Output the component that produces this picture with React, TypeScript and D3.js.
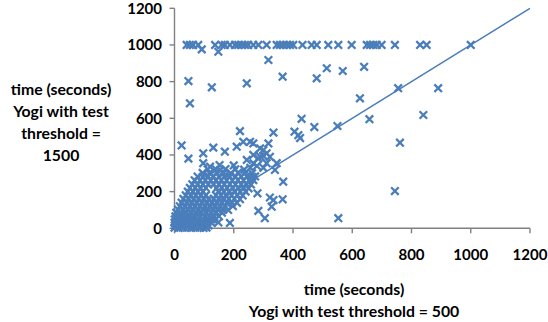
import React from "react";
import * as d3 from "d3";

const xTicks = [0, 200, 400, 600, 800, 1000, 1200];
const yTicks = [0, 200, 400, 600, 800, 1000, 1200];

// capped runs (time = 1000 on the vertical axis)
const cappedX = [41, 52, 63, 80, 137, 159, 170, 187, 204, 215, 227, 238, 249, 266, 283, 311, 345, 356, 367, 379, 390, 401, 432, 463, 480, 519, 553, 598, 649, 660, 671, 683, 699, 744, 829, 851, 1000];

// dense cluster near the origin
const clusterPoints: [number, number][] = [
  [0,3],[14,2],[28,4],[42,3],[56,2],[70,4],[84,3],[98,2],[108,4],
  [2,15],[16,14],[31,16],[46,15],[61,14],[76,16],[91,15],[104,14],[115,16],
  [0,30],[15,31],[30,29],[46,30],[62,31],[78,29],[94,30],[110,31],[125,29],
  [1,48],[16,47],[32,49],[48,48],[64,47],[80,49],[96,48],[112,47],[126,49],[136,46],
  [3,65],[19,66],[36,64],[52,65],[69,66],[86,64],[102,65],[118,66],[134,64],[150,66],
  [6,85],[23,84],[40,86],[57,85],[74,84],[91,86],[108,85],[125,84],[142,86],[160,85],
  [12,102],[29,101],[46,103],[63,102],[80,101],[97,103],[114,102],[131,101],[148,103],[165,102],[181,100],
  [18,120],[35,121],[52,119],[69,120],[86,121],[103,119],[120,120],[137,121],[154,119],[171,120],[197,121],
  [24,140],[41,141],[58,139],[75,140],[92,141],[109,139],[126,140],[143,141],[160,139],[177,140],[194,141],[211,139],
  [30,160],[47,161],[64,159],[81,160],[98,161],[115,159],[132,160],[149,161],[166,159],[183,160],[202,161],[221,159],
  [38,180],[55,181],[72,179],[89,180],[106,181],[140,180],[157,181],[174,179],[193,180],[212,181],[230,179],
  [45,200],[62,201],[79,199],[96,200],[148,201],[166,199],[184,200],[203,201],[222,199],[240,200],
  [52,220],[70,221],[88,219],[106,220],[142,219],[160,221],[178,220],[197,219],[215,221],[234,220],[250,218],
  [60,240],[78,241],[96,239],[114,240],[132,241],[150,239],[168,240],[187,241],[206,239],[225,240],[243,241],[258,239],
  [68,262],[86,261],[104,263],[122,262],[140,261],[158,263],[176,262],[195,261],[214,263],[233,262],[252,261],[266,263],
  [78,282],[96,281],[114,283],[132,282],[150,281],[168,283],[187,282],[206,281],[225,283],[244,282],[262,281],[272,283],
  [95,302],[118,301],[142,303],[166,302],[190,301],[214,303],[238,302],[262,300],
  [112,322],[140,321],[172,323],[205,322],[235,320],
  [152,345],[200,343]
];

// scattered runs
const scatterPoints: [number, number][] = [
  [24,452],[47,380],[97,409],[131,440],[170,418],[210,445],[232,472],[221,530],[255,472],[266,463],
  [289,436],[300,427],[317,463],[311,409],[289,391],[244,373],[266,355],[311,355],[345,355],[339,318],
  [97,355],[120,336],[154,318],[334,522],[405,527],[418,508],[424,492],[429,597],[472,552],[550,558],
  [367,254],[280,191],[322,168],[334,154],[365,158],[283,95],[305,55],[328,118],[553,55],[187,29],[148,32],
  [266,400],[283,380],[300,395],[322,390],[278,340],[300,330],[256,330],
  [47,803],[52,682],[126,769],[244,791],[317,918],[365,827],[480,818],[514,873],[568,858],[626,709],
  [640,881],[658,595],[755,764],[890,764],[840,618],[761,467],[744,203],[92,976],[148,963]
];

const diagonal: [number, number][] = [[0, 0], [1200, 1200]];

const yTitle = ["time (seconds)", "Yogi with test", "threshold =", "1500"];
const xTitle = ["time (seconds)", "Yogi with test threshold = 500"];

export default function App() {
  const W = 548, H = 322;
  const x = d3.scaleLinear().domain([0, 1200]).range([174.5, 530]);
  const y = d3.scaleLinear().domain([0, 1200]).range([228.3, 8.3]);
  const blue = "#4A7EBB";
  const axisColor = "#808080";
  const font = "Lato, 'Liberation Sans', sans-serif";
  const all: [number, number][] = [
    ...cappedX.map((v) => [v, 1000] as [number, number]),
    ...clusterPoints,
    ...scatterPoints,
  ];
  const line = d3.line<[number, number]>().x((d) => x(d[0])).y((d) => y(d[1]));
  const s = 3.8;
  return (
    <svg width={W} height={H} style={{ position: "absolute", left: 0, top: 0, background: "#fff" }}>
      <rect width={W} height={H} fill="#fff" />
      {/* axes */}
      <line x1={x(0)} x2={x(0)} y1={y(1200)} y2={y(0)} stroke={axisColor} strokeWidth={1.4} />
      <line x1={x(0)} x2={x(1200)} y1={y(0)} y2={y(0)} stroke={axisColor} strokeWidth={1.4} />
      {yTicks.map((t) => (
        <g key={"yt" + t}>
          <line x1={x(0) - 5} x2={x(0)} y1={y(t)} y2={y(t)} stroke={axisColor} strokeWidth={1.4} />
          <text x={162} y={y(t)} dy="0.36em" textAnchor="end" fontFamily={font} fontWeight="bold" fontSize={15} fill="#000">{t}</text>
        </g>
      ))}
      {xTicks.map((t) => (
        <g key={"xt" + t}>
          <line x1={x(t)} x2={x(t)} y1={y(0)} y2={y(0) + 5} stroke={axisColor} strokeWidth={1.4} />
          <text x={x(t)} y={255} dy="0.36em" textAnchor="middle" fontFamily={font} fontWeight="bold" fontSize={15} fill="#000">{t}</text>
        </g>
      ))}
      {/* markers */}
      {all.map((d, i) => (
        <path key={i} transform={`translate(${x(d[0])},${y(d[1])})`} d={`M${-s},${-s}L${s},${s}M${-s},${s}L${s},${-s}`} stroke={blue} strokeWidth={2.3} fill="none" />
      ))}
      <path d={line(diagonal) || ""} stroke={blue} strokeWidth={1.5} fill="none" />
      {/* titles */}
      {yTitle.map((t, i) => (
        <text key={"yl" + i} x={61} y={89 + i * 22} dy="0.36em" textAnchor="middle" fontFamily={font} fontWeight="bold" fontSize={15.8} fill="#000">{t}</text>
      ))}
      {xTitle.map((t, i) => (
        <text key={"xl" + i} x={354} y={289 + i * 22} dy="0.36em" textAnchor="middle" fontFamily={font} fontWeight="bold" fontSize={15.8} fill="#000">{t}</text>
      ))}
    </svg>
  );
}
